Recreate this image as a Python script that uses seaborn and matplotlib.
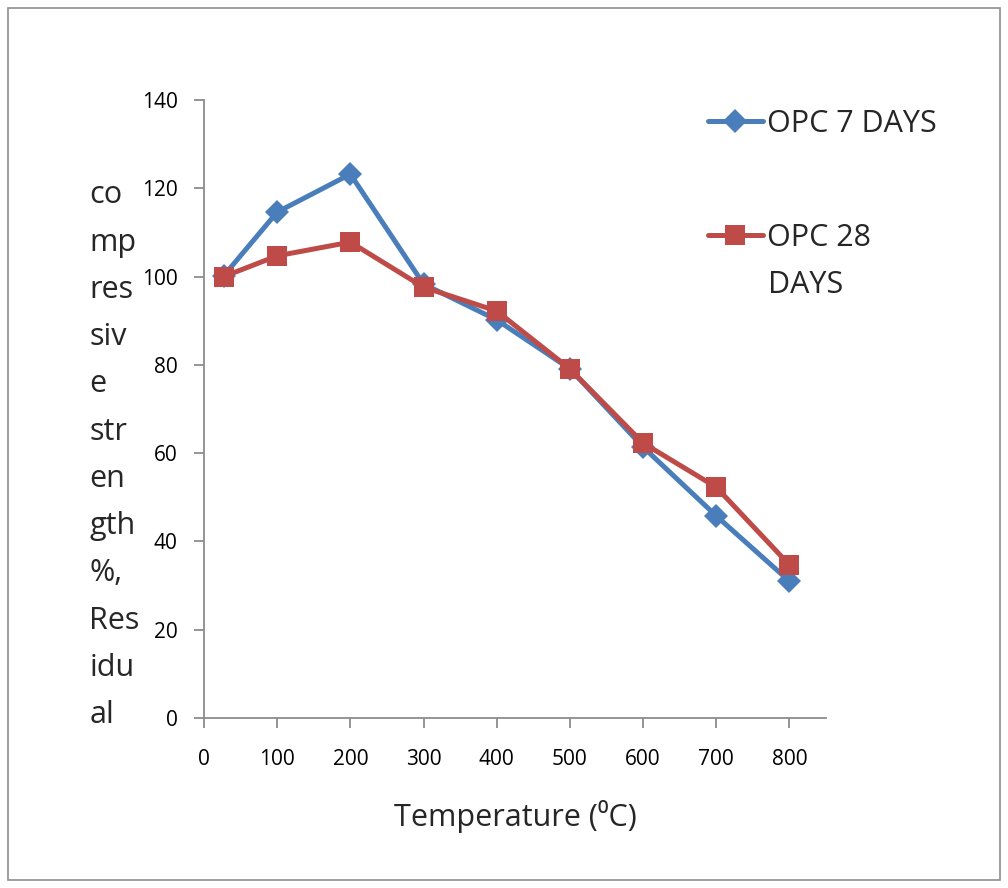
import matplotlib
matplotlib.use("Agg")
import matplotlib.pyplot as plt
from matplotlib.patches import Rectangle
import seaborn as sns
import pandas as pd

temperature = [27, 100, 200, 300, 400, 500, 600, 700, 800]
opc_7_days = [100.2, 114.6, 123.2, 98.3, 90.2, 79.1, 61.4, 45.8, 31.0]
opc_28_days = [100.0, 104.7, 107.8, 97.6, 92.2, 79.1, 62.3, 52.3, 34.7]
series_names = ["OPC 7 DAYS", "OPC 28 DAYS"]
x_ticks = [0, 100, 200, 300, 400, 500, 600, 700, 800]
y_ticks = [0, 20, 40, 60, 80, 100, 120, 140]

df = pd.concat([
    pd.DataFrame({"Temperature": temperature, "value": opc_7_days, "series": series_names[0]}),
    pd.DataFrame({"Temperature": temperature, "value": opc_28_days, "series": series_names[1]}),
])

sns.set_style("white")
plt.rcParams["font.family"] = ["Open Sans", "DejaVu Sans"]

fig = plt.figure(figsize=(10.08, 8.88), dpi=100)
ax = fig.add_axes([0.2024, 0.1914, 0.617, 0.696])

palette = {series_names[0]: "#4A7EBB", series_names[1]: "#BE4B48"}
markers = {series_names[0]: "D", series_names[1]: "s"}
sns.lineplot(data=df, x="Temperature", y="value", hue="series", style="series",
             palette=palette, markers=markers, dashes=False, linewidth=3.6,
             markersize=13, markeredgewidth=0, ax=ax)
for ln in ax.lines:
    if ln.get_marker() == "D":
        ln.set_markersize(12.5)
    elif ln.get_marker() == "s":
        ln.set_markersize(14.5)

ax.set_xlim(0, 850)
ax.set_ylim(0, 140)
ax.set_xticks(x_ticks)
ax.set_yticks(y_ticks)
for s in ["top", "right"]:
    ax.spines[s].set_visible(False)
for s in ["left", "bottom"]:
    ax.spines[s].set_color("#8c8c8c")
    ax.spines[s].set_linewidth(1.3)
ax.tick_params(axis="both", direction="out", length=7, width=1.3, color="#8c8c8c",
               labelsize=15, labelcolor="black", bottom=True, left=True)
ax.tick_params(axis="y", pad=12)
ax.tick_params(axis="x", pad=15)
ax.set_xlabel("Temperature (⁰C)", fontsize=22, labelpad=22)
ax.set_ylabel("")

fig.text(0.0885, 0.797, "co\nmp\nres\nsiv\ne\nstr\nen\ngth\n%,\nRes\nidu\nal",
         fontsize=22, ha="left", va="top", linespacing=1.75)

handles, labels = ax.get_legend_handles_labels()
leg = ax.legend(handles, ["OPC 7 DAYS", "OPC 28"], loc="upper left",
                bbox_to_anchor=(0.690, 0.891), bbox_transform=fig.transFigure,
                frameon=False, fontsize=22, handlelength=1.8, handletextpad=0.15,
                labelspacing=2.75, borderaxespad=0)
fig.text(0.762, 0.679, "DAYS", fontsize=22, ha="left", va="center")

fig.patches.append(Rectangle((0.008, 0.009), 0.984, 0.982, transform=fig.transFigure,
                             fill=False, edgecolor="#8c8c8c", linewidth=1.2))

fig.savefig("out.png", dpi=100)
